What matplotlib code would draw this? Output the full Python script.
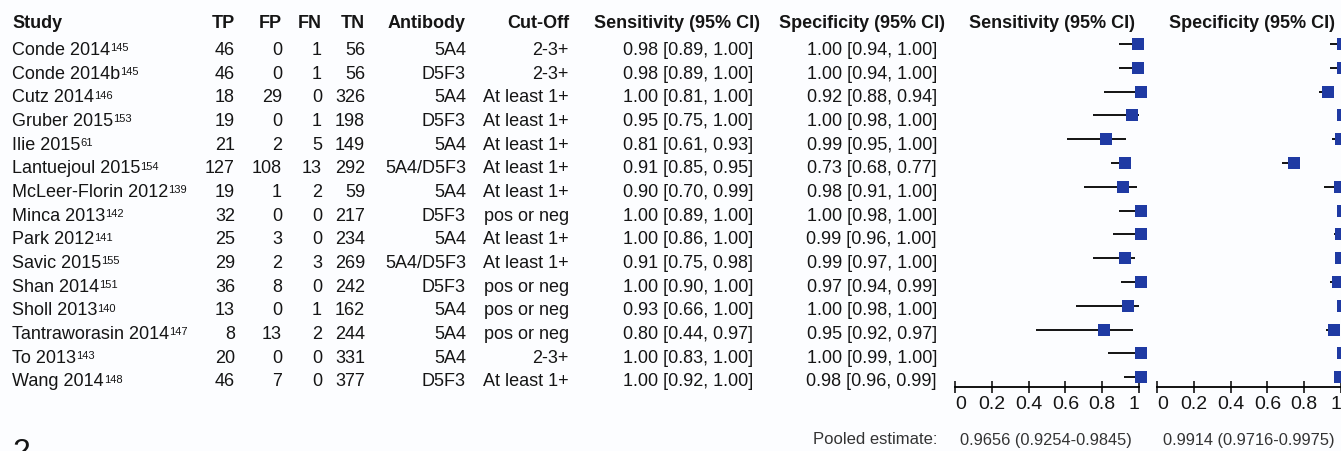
import matplotlib
matplotlib.use("Agg")
import matplotlib.pyplot as plt

plt.rcParams['font.family'] = ['Liberation Sans', 'DejaVu Sans']

# Study data
studies = ["Conde 2014", "Conde 2014b", "Cutz 2014", "Gruber 2015", "Ilie 2015",
           "Lantuejoul 2015", "McLeer-Florin 2012", "Minca 2013", "Park 2012",
           "Savic 2015", "Shan 2014", "Sholl 2013", "Tantraworasin 2014",
           "To 2013", "Wang 2014"]
refs = ["145", "145", "146", "153", "61", "154", "139", "142", "141", "155",
        "151", "140", "147", "143", "148"]
tp = [46, 46, 18, 19, 21, 127, 19, 32, 25, 29, 36, 13, 8, 20, 46]
fp = [0, 0, 29, 0, 2, 108, 1, 0, 3, 2, 8, 0, 13, 0, 7]
fn = [1, 1, 0, 1, 5, 13, 2, 0, 0, 3, 0, 1, 2, 0, 0]
tn = [56, 56, 326, 198, 149, 292, 59, 217, 234, 269, 242, 162, 244, 331, 377]
antibody = ["5A4", "D5F3", "5A4", "D5F3", "5A4", "5A4/D5F3", "5A4", "D5F3",
            "5A4", "5A4/D5F3", "D5F3", "5A4", "5A4", "5A4", "D5F3"]
cutoff = ["2-3+", "2-3+", "At least 1+", "At least 1+", "At least 1+",
          "At least 1+", "At least 1+", "pos or neg", "At least 1+",
          "At least 1+", "pos or neg", "pos or neg", "pos or neg", "2-3+",
          "At least 1+"]
sens = [0.98, 0.98, 1.00, 0.95, 0.81, 0.91, 0.90, 1.00, 1.00, 0.91, 1.00, 0.93, 0.80, 1.00, 1.00]
sens_lo = [0.89, 0.89, 0.81, 0.75, 0.61, 0.85, 0.70, 0.89, 0.86, 0.75, 0.90, 0.66, 0.44, 0.83, 0.92]
sens_hi = [1.00, 1.00, 1.00, 1.00, 0.93, 0.95, 0.99, 1.00, 1.00, 0.98, 1.00, 1.00, 0.97, 1.00, 1.00]
spec = [1.00, 1.00, 0.92, 1.00, 0.99, 0.73, 0.98, 1.00, 0.99, 0.99, 0.97, 1.00, 0.95, 1.00, 0.98]
spec_lo = [0.94, 0.94, 0.88, 0.98, 0.95, 0.68, 0.91, 0.98, 0.96, 0.97, 0.94, 0.98, 0.92, 0.99, 0.96]
spec_hi = [1.00, 1.00, 0.94, 1.00, 1.00, 0.77, 1.00, 1.00, 1.00, 1.00, 0.99, 1.00, 0.97, 1.00, 0.99]
pooled_sens = "0.9656 (0.9254-0.9845)"
pooled_spec = "0.9914 (0.9716-0.9975)"
ticks = [0, 0.2, 0.4, 0.6, 0.8, 1]
tick_labels = ["0", "0.2", "0.4", "0.6", "0.8", "1"]

W, H = 1341, 451
txt = '#151515'
blue = '#1f3aa3'
bg = '#fcfdff'

fig = plt.figure(figsize=(W / 100, H / 100), dpi=100, facecolor=bg)

# text layer in pixel coordinates
ax = fig.add_axes([0, 0, 1, 1])
ax.set_xlim(0, W)
ax.set_ylim(H, 0)
ax.axis('off')

base0, dy = 55, 23.67   # text baselines
head_base = 28
fs = 13

# headers
ax.text(12, head_base, "Study", fontsize=fs, fontweight='bold', color=txt, va='baseline', ha='left')
for label, x in [("TP", 235), ("FP", 282), ("FN", 322), ("TN", 365),
                 ("Antibody", 466), ("Cut-Off", 569),
                 ("Sensitivity (95% CI)", 760), ("Specificity (95% CI)", 945)]:
    ax.text(x, head_base, label, fontsize=fs, fontweight='bold', color=txt, va='baseline', ha='right')
ax.text(1052, head_base, "Sensitivity (95% CI)", fontsize=fs, fontweight='bold', color=txt,
        va='baseline', ha='center')
ax.text(1252, head_base, "Specificity (95% CI)", fontsize=fs, fontweight='bold', color=txt,
        va='baseline', ha='center')

# table rows
for i in range(len(studies)):
    y = base0 + dy * i
    t = ax.text(12, y, studies[i], fontsize=fs, color=txt, va='baseline', ha='left')
    ax.annotate(refs[i], xy=(1, 1), xycoords=t, xytext=(0, -1), textcoords='offset points',
                fontsize=8, color=txt, va='top', ha='left')
    for val, x in [(tp[i], 235), (fp[i], 282), (fn[i], 322), (tn[i], 365)]:
        ax.text(x, y, str(val), fontsize=fs, color=txt, va='baseline', ha='right')
    ax.text(466, y, antibody[i], fontsize=fs, color=txt, va='baseline', ha='right')
    ax.text(569, y, cutoff[i], fontsize=fs, color=txt, va='baseline', ha='right')
    ax.text(753, y, f"{sens[i]:.2f} [{sens_lo[i]:.2f}, {sens_hi[i]:.2f}]",
            fontsize=fs, color=txt, va='baseline', ha='right')
    ax.text(937, y, f"{spec[i]:.2f} [{spec_lo[i]:.2f}, {spec_hi[i]:.2f}]",
            fontsize=fs, color=txt, va='baseline', ha='right')

# pooled estimate line
ax.text(937, 440, "Pooled estimate:", fontsize=12, color='#333333', va='center', ha='right')
ax.text(1046, 440, pooled_sens, fontsize=11.8, color='#333333', va='center', ha='center')
ax.text(1249, 440, pooled_spec, fontsize=11.8, color='#333333', va='center', ha='center')

# panel label (cut at the bottom edge, as in the source)
ax.text(12, 461, "2", fontsize=23, color=txt, va='baseline', ha='left')

# forest plots
axis_y, top_y = 387, 30
mark0, mdy = 44, 23.8
ylo = (axis_y - mark0) / mdy
yhi = (top_y - mark0) / mdy
rows = list(range(len(studies)))


def forest(x0, est, lo, hi):
    fa = fig.add_axes([x0 / W, (H - axis_y) / H, 184 / W, (axis_y - top_y) / H])
    fa.set_facecolor('none')
    fa.set_xlim(0, 1)
    fa.set_ylim(ylo, yhi)
    fa.hlines(rows, lo, hi, color='black', lw=1.3, clip_on=False)
    fa.plot([e + 0.012 for e in est], rows, 's', color=blue, markersize=8,
            markeredgewidth=0, clip_on=False)
    for s in ['top', 'left', 'right']:
        fa.spines[s].set_visible(False)
    fa.spines['bottom'].set_linewidth(1.3)
    fa.set_yticks([])
    fa.set_xticks(ticks)
    fa.set_xticklabels(tick_labels)
    fa.tick_params(axis='x', direction='inout', length=9, width=1.2, labelsize=14,
                   pad=2, colors=txt)
    labs = fa.get_xticklabels()
    labs[0].set_horizontalalignment('left')
    labs[-1].set_horizontalalignment('right')
    return fa


forest(955, sens, sens_lo, sens_hi)
forest(1157, spec, spec_lo, spec_hi)

fig.savefig("out.png", dpi=100, facecolor=bg)
